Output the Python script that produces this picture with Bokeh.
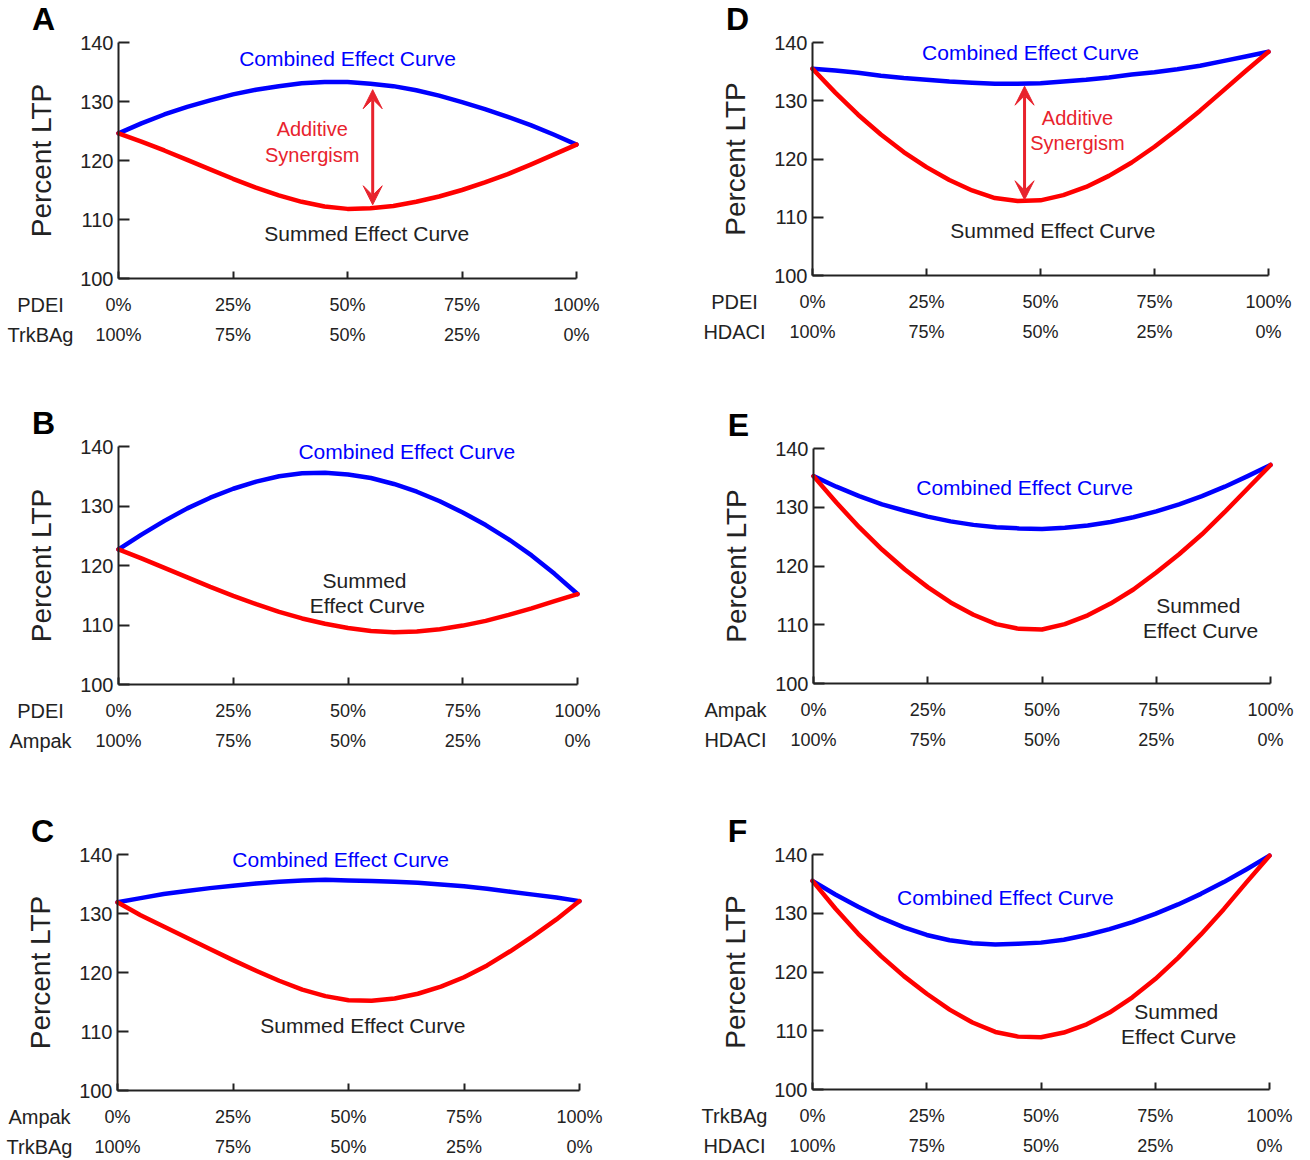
from bokeh.plotting import figure
from bokeh.models import FixedTicker, LinearAxis, Label, Arrow, VeeHead, Range1d
from bokeh.layouts import column, row
from bokeh.embed import file_html
from bokeh.resources import INLINE

# ---------------- data ----------------
mix_pct = [0, 5, 10, 15, 20, 25, 30, 35, 40, 45, 50, 55, 60, 65, 70, 75, 80, 85, 90, 95, 100]
tick_pct = [0, 25, 50, 75, 100]
top_tick_labels = ["0%", "25%", "50%", "75%", "100%"]
bottom_tick_labels = ["100%", "75%", "50%", "25%", "0%"]
y_ticks = [100, 110, 120, 130, 140]

A_combined = [124.6, 126.3, 127.8, 129.1, 130.2, 131.2, 132.0, 132.6, 133.1, 133.3, 133.3,
              133.0, 132.6, 131.9, 131.0, 129.9, 128.7, 127.4, 126.0, 124.4, 122.7]
A_summed = [124.6, 123.2, 121.7, 120.1, 118.5, 116.9, 115.4, 114.1, 113.0, 112.2, 111.8,
            111.9, 112.3, 113.0, 113.9, 115.0, 116.3, 117.7, 119.3, 121.0, 122.7]
B_combined = [122.7, 125.2, 127.5, 129.6, 131.4, 132.9, 134.1, 135.0, 135.5, 135.6, 135.3,
              134.7, 133.7, 132.4, 130.8, 128.9, 126.8, 124.4, 121.7, 118.6, 115.2]
B_summed = [122.7, 121.2, 119.6, 118.0, 116.4, 114.9, 113.5, 112.2, 111.1, 110.2, 109.5,
            109.0, 108.8, 108.9, 109.3, 109.9, 110.7, 111.7, 112.8, 114.0, 115.2]
C_combined = [131.9, 132.6, 133.3, 133.8, 134.3, 134.7, 135.1, 135.4, 135.6, 135.7, 135.6,
              135.5, 135.4, 135.2, 134.9, 134.6, 134.2, 133.7, 133.2, 132.7, 132.1]
C_summed = [131.9, 129.7, 127.8, 125.9, 124.0, 122.1, 120.3, 118.6, 117.1, 116.0, 115.3,
            115.2, 115.6, 116.4, 117.6, 119.2, 121.2, 123.6, 126.2, 129.0, 132.1]
D_combined = [135.5, 135.2, 134.8, 134.3, 133.9, 133.6, 133.3, 133.1, 132.9, 132.9, 133.0,
              133.3, 133.6, 134.0, 134.5, 134.9, 135.4, 136.0, 136.8, 137.6, 138.4]
D_summed = [135.5, 131.4, 127.6, 124.2, 121.2, 118.6, 116.4, 114.6, 113.3, 112.8, 112.9,
            113.8, 115.2, 117.1, 119.4, 122.1, 125.1, 128.3, 131.7, 135.1, 138.4]
E_combined = [135.3, 133.5, 131.9, 130.5, 129.4, 128.4, 127.6, 127.0, 126.6, 126.4, 126.3,
              126.5, 126.9, 127.5, 128.3, 129.3, 130.5, 131.9, 133.5, 135.3, 137.2]
E_summed = [135.3, 130.8, 126.6, 122.8, 119.4, 116.4, 113.8, 111.7, 110.1, 109.3, 109.2,
            110.1, 111.6, 113.6, 116.0, 118.9, 122.0, 125.4, 129.2, 133.2, 137.2]
F_combined = [135.5, 133.2, 131.1, 129.2, 127.6, 126.3, 125.4, 124.9, 124.7, 124.8, 125.0,
              125.5, 126.3, 127.3, 128.5, 129.9, 131.5, 133.3, 135.3, 137.5, 139.8]
F_summed = [135.5, 130.8, 126.5, 122.7, 119.3, 116.3, 113.6, 111.4, 109.8, 109.0, 108.9,
            109.7, 111.1, 113.1, 115.7, 118.8, 122.4, 126.4, 130.7, 135.3, 139.8]

# ---------------- styling / layout ----------------
FONT = "Liberation Sans"
BLUE = "#0000FF"
RED = "#FF0000"
ARROW_RED = "#E8232D"
INK = "#222222"

ROW_H = [404, 404, 350]
COL_W = [690, 616]
OFF = 1
# page pixel positions of x=0%, x=100%, y=140, y=100 for each panel
GEOM = {
    "A": (119, 577, 43, 279),
    "D": (813, 1269, 43, 276),
    "B": (119, 578, 447, 685),
    "E": (814, 1271, 449, 684),
    "C": (118, 580, 855, 1091),
    "F": (813, 1270, 855, 1090),
}


def make_panel(letter, r, c, top_name, bottom_name, combined, summed, notes, arrow):
    W, H = COL_W[c], ROW_H[r]
    left = sum(COL_W[:c]) + OFF
    top = sum(ROW_H[:r]) + OFF
    X0, X1, Y140, Y100 = GEOM[letter]
    x0, x1, y140, y100 = X0 - left, X1 - left, Y140 - top, Y100 - top
    sx = (x1 - x0) / 100.0
    sy = (y100 - y140) / 40.0

    def dx(px):
        return px / sx

    def dy(px):
        return px / sy

    p = figure(frame_width=W, frame_height=H,
               x_range=Range1d(-x0 / sx, (W - x0) / sx),
               y_range=Range1d(100 - (H - y100) / sy, 140 + y140 / sy),
               x_axis_type=None, y_axis_type=None,
               output_backend="svg", toolbar_location=None,
               min_border_left=0, min_border_right=0,
               min_border_top=0, min_border_bottom=0,
               background_fill_color="white", border_fill_color="white")
    p.outline_line_color = None

    common = dict(major_label_text_font=FONT, major_label_text_color=INK,
                  minor_tick_line_color=None)

    xa = LinearAxis(fixed_location=100, bounds=(0, 100),
                    ticker=FixedTicker(ticks=tick_pct),
                    major_label_overrides={t: s for t, s in zip(tick_pct, top_tick_labels)},
                    major_tick_in=7, major_tick_out=0,
                    axis_line_width=2, major_tick_line_width=2,
                    axis_line_color=INK, major_tick_line_color=INK,
                    major_label_text_font_size="18px", major_label_standoff=16, **common)
    p.add_layout(xa, "below")

    xb = LinearAxis(fixed_location=100, bounds=(0, 100),
                    ticker=FixedTicker(ticks=tick_pct),
                    major_label_overrides={t: s for t, s in zip(tick_pct, bottom_tick_labels)},
                    axis_line_color=None, major_tick_line_color=None,
                    major_tick_in=0, major_tick_out=0,
                    major_label_text_font_size="18px", major_label_standoff=46, **common)
    p.add_layout(xb, "below")

    ya = LinearAxis(fixed_location=0, bounds=(100, 140),
                    ticker=FixedTicker(ticks=y_ticks),
                    major_tick_in=11, major_tick_out=0,
                    axis_line_width=2, major_tick_line_width=2,
                    axis_line_color=INK, major_tick_line_color=INK,
                    major_label_text_font_size="20px", major_label_standoff=5,
                    axis_label="Percent LTP", axis_label_text_font=FONT,
                    axis_label_text_font_size="28px", axis_label_text_font_style="normal",
                    axis_label_text_color=INK, axis_label_standoff=20, **common)
    p.add_layout(ya, "left")

    p.line(mix_pct, combined, line_color=BLUE, line_width=4.5,
           line_join="round", line_cap="round")
    p.line(mix_pct, summed, line_color=RED, line_width=4.5,
           line_join="round", line_cap="round")

    def add_text(text, x, y, color, size="21px", style="normal"):
        p.add_layout(Label(x=x, y=y, text=text, text_color=color, text_font=FONT,
                           text_font_size=size, text_font_style=style,
                           text_align="center", text_baseline="middle"))

    for text, x, y, color in notes:
        add_text(text, x, y, color, size="20px" if color == ARROW_RED else "21px")

    if arrow is not None:
        ax, ya0, ya1 = arrow
        p.add_layout(Arrow(x_start=ax, y_start=ya0, x_end=ax, y_end=ya1,
                           line_color=ARROW_RED, line_width=3,
                           start=VeeHead(size=19, fill_color=ARROW_RED, line_color=ARROW_RED),
                           end=VeeHead(size=19, fill_color=ARROW_RED, line_color=ARROW_RED)))

    add_text(top_name, -dx(78), 100 - dy(26), INK, size="20px")
    add_text(bottom_name, -dx(78), 100 - dy(56), INK, size="20px")
    add_text(letter, -dx(75), 140 + dy(24), "#000000", size="32px", style="bold")
    return p


pA = make_panel("A", 0, 0, "PDEI", "TrkBAg", A_combined, A_summed,
                [("Combined Effect Curve", 50.0, 137.3, BLUE),
                 ("Additive", 42.3, 125.3, ARROW_RED),
                 ("Synergism", 42.3, 121.0, ARROW_RED),
                 ("Summed Effect Curve", 54.2, 107.7, INK)],
                (55.5, 112.5, 132.0))
pD = make_panel("D", 0, 1, "PDEI", "HDACI", D_combined, D_summed,
                [("Combined Effect Curve", 47.8, 138.3, BLUE),
                 ("Additive", 58.1, 127.1, ARROW_RED),
                 ("Synergism", 58.1, 122.8, ARROW_RED),
                 ("Summed Effect Curve", 52.7, 107.8, INK)],
                (46.5, 113.0, 132.5))
pB = make_panel("B", 1, 0, "PDEI", "Ampak", B_combined, B_summed,
                [("Combined Effect Curve", 62.8, 139.2, BLUE),
                 ("Summed", 53.6, 117.5, INK),
                 ("Effect Curve", 54.2, 113.2, INK)],
                None)
pE = make_panel("E", 1, 1, "Ampak", "HDACI", E_combined, E_summed,
                [("Combined Effect Curve", 46.2, 133.4, BLUE),
                 ("Summed", 84.2, 113.3, INK),
                 ("Effect Curve", 84.7, 109.0, INK)],
                None)
pC = make_panel("C", 2, 0, "Ampak", "TrkBAg", C_combined, C_summed,
                [("Combined Effect Curve", 48.3, 139.2, BLUE),
                 ("Summed Effect Curve", 53.1, 111.1, INK)],
                None)
pF = make_panel("F", 2, 1, "TrkBAg", "HDACI", F_combined, F_summed,
                [("Combined Effect Curve", 42.2, 132.7, BLUE),
                 ("Summed", 79.6, 113.2, INK),
                 ("Effect Curve", 80.1, 109.0, INK)],
                None)

layout = column(row(pA, pD), row(pB, pE), row(pC, pF))

open("out.html", "w").write(file_html(layout, INLINE, title="LTP synergy curves"))
